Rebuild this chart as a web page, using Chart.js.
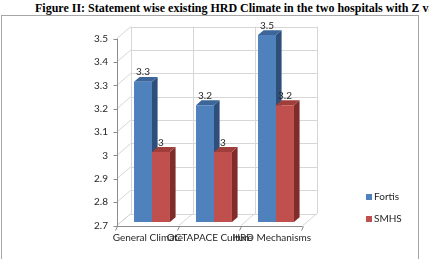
<!DOCTYPE html>
<html><head><meta charset="utf-8">
<script src="https://cdn.jsdelivr.net/npm/chart.js@4/dist/chart.umd.min.js"></script>
<style>
html,body{margin:0;padding:0;background:#fff;width:429px;height:259px;overflow:hidden;}
#title{position:absolute;left:35px;top:1px;font:bold 12px "Liberation Serif","Times New Roman",serif;white-space:nowrap;color:#000;}
#frame{position:absolute;left:1px;top:15px;width:416px;height:243px;border:1px solid #a6a6a6;}
canvas{position:absolute;left:0;top:0;}
</style></head><body>
<div id="title">Figure II: Statement wise existing HRD Climate in the two hospitals with Z values</div>
<div id="frame"></div>
<canvas id="c" width="429" height="259"></canvas>
<script>
const categories = ["General Climate", "OCTAPACE Culture", "HRD Mechanisms"];
const seriesNames = ["Fortis", "SMHS"];
const fortisValues = [3.3, 3.2, 3.5];
const smhsValues = [3, 3, 3.2];
const yMin = 2.7, yMax = 3.5, yStep = 0.1;

const FONT = {family: "Lato, 'Liberation Sans', sans-serif", size: 10};
const TXT = '#262626';
const frontCol = ['#4F81BD', '#C0504D'];
const topCol = ['#3C6699', '#A03E3B'];
const sideCol = ['#2D4F7A', '#7F2C2A'];
const DX = 14, DY = 12, F = 0.3;

function line(ctx, x1, y1, x2, y2) {
  ctx.beginPath(); ctx.moveTo(x1, y1); ctx.lineTo(x2, y2); ctx.stroke();
}
function poly(ctx, pts, col) {
  ctx.beginPath(); ctx.moveTo(pts[0][0], pts[0][1]);
  for (let i = 1; i < pts.length; i++) ctx.lineTo(pts[i][0], pts[i][1]);
  ctx.closePath(); ctx.fillStyle = col; ctx.fill();
}

const box3d = {
  id: 'box3d',
  beforeDatasetsDraw(chart) {
    const ctx = chart.ctx, ys = chart.scales.y, a = chart.chartArea;
    const fx = -F * DX, fy = F * DY, bx = (1 - F) * DX, by = -(1 - F) * DY;
    const yTop = ys.getPixelForValue(yMax), yBot = ys.getPixelForValue(yMin);
    const n = categories.length, w = (a.right - a.left) / n;
    ctx.save();
    ctx.lineWidth = 1;
    ctx.strokeStyle = '#d6d6d6';
    ys.ticks.forEach(t => {
      const yy = Math.round(ys.getPixelForValue(t.value) + by) + 0.5;
      line(ctx, a.left + bx, yy, a.right + bx, yy);
      const yf = ys.getPixelForValue(t.value);
      line(ctx, a.left + fx, yf + fy, a.left + bx, yf + by);
    });
    for (let k = 0; k <= n; k++) {
      const xx = Math.round(a.left + k * w + bx) + 0.5;
      line(ctx, xx, yTop + by, xx, yBot + by);
      line(ctx, a.left + k * w + fx, yBot + fy, a.left + k * w + bx, yBot + by);
    }
    ctx.strokeStyle = '#8c8c8c';
    const axX = Math.round(a.left + fx) + 0.5, axY = Math.round(yBot + fy) + 0.5;
    line(ctx, axX, yTop + fy, axX, axY);
    line(ctx, axX, axY, a.right + fx, axY);
    ys.ticks.forEach(t => {
      const yy = Math.round(ys.getPixelForValue(t.value) + fy) + 0.5;
      line(ctx, axX - 4, yy, axX, yy);
    });
    for (let k = 0; k <= n; k++) {
      const xx = Math.round(a.left + k * w + fx) + 0.5;
      line(ctx, xx, axY, xx - 2, axY + 4);
    }
    // bar top and side faces
    const dbx = (1 - 2 * F) * DX, dby = (1 - 2 * F) * DY;
    for (let i = 0; i < n; i++) {
      chart.data.datasets.forEach((ds, d) => {
        const el = chart.getDatasetMeta(d).data[i];
        const p = el.getProps(['x', 'y', 'base', 'width'], true);
        const base = Math.min(p.base, a.bottom);
        const l = p.x - p.width / 2, r = p.x + p.width / 2;
        poly(ctx, [[r, p.y], [r + dbx, p.y - dby], [r + dbx, base - dby], [r, base]], sideCol[d]);
        poly(ctx, [[l, p.y], [r, p.y], [r + dbx, p.y - dby], [l + dbx, p.y - dby]], topCol[d]);
      });
    }
    ctx.restore();
  },
  afterDatasetsDraw(chart) {
    const ctx = chart.ctx;
    ctx.save();
    ctx.font = FONT.size + 'px ' + FONT.family;
    ctx.fillStyle = TXT;
    ctx.textAlign = 'center';
    ctx.textBaseline = 'middle';
    chart.data.datasets.forEach((ds, d) => {
      chart.getDatasetMeta(d).data.forEach((el, i) => {
        const p = el.getProps(['x', 'y'], true);
        ctx.fillText(String(ds.data[i]), p.x, p.y - 9.5);
      });
    });
    // legend
    ctx.textAlign = 'left';
    chart.data.datasets.forEach((ds, d) => {
      const cy = 197 + d * 22;
      ctx.fillStyle = frontCol[d];
      ctx.fillRect(366, cy - 3, 6, 6);
      ctx.fillStyle = TXT;
      ctx.fillText(ds.label, 374, cy);
    });
    ctx.restore();
  }
};

new Chart(document.getElementById('c'), {
  type: 'bar',
  data: {
    labels: categories,
    datasets: [
      {label: seriesNames[0], data: fortisValues, backgroundColor: frontCol[0]},
      {label: seriesNames[1], data: smhsValues, backgroundColor: frontCol[1]}
    ]
  },
  options: {
    responsive: false,
    animation: false,
    devicePixelRatio: 1,
    layout: {padding: {left: 0, top: 35, right: 122, bottom: 0}},
    datasets: {bar: {categoryPercentage: 0.58, barPercentage: 1.0, borderWidth: 0}},
    plugins: {legend: {display: false}, tooltip: {enabled: false}},
    scales: {
      x: {
        grid: {display: false, drawTicks: false},
        border: {display: false},
        ticks: {font: FONT, color: TXT, padding: 10, labelOffset: -F * DX, autoSkip: false, maxRotation: 0, minRotation: 0},
        afterFit(s) { s.height = 37; }
      },
      y: {
        min: yMin, max: yMax,
        grid: {display: false, drawTicks: false},
        border: {display: false},
        ticks: {stepSize: yStep, font: FONT, color: TXT, padding: 13, labelOffset: F * DY,
          callback: v => String(Number(Number(v).toFixed(1)))},
        afterFit(s) { s.width = 121; }
      }
    }
  },
  plugins: [box3d]
});
</script>
</body></html>
